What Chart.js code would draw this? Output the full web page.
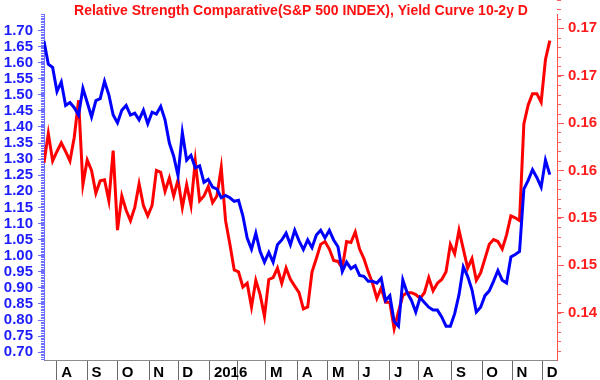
<!DOCTYPE html>
<html>
<head>
<meta charset="utf-8">
<script src="https://cdn.jsdelivr.net/npm/chart.js@4/dist/chart.umd.min.js"></script>
<style>
  html, body { margin: 0; padding: 0; background: #fff; }
  #wrap { width: 600px; height: 380px; }
</style>
</head>
<body>
<div id="wrap"><canvas id="c" width="600" height="380"></canvas></div>
<script>
// one value every 3 trading days, starting mid July 2015
const step = 3;
const rsValues = [
  1.667, 1.595, 1.585, 1.51, 1.54, 1.467, 1.476, 1.46, 1.437, 1.52,
  1.476, 1.431, 1.482, 1.488, 1.542, 1.50, 1.437, 1.413, 1.452, 1.467,
  1.437, 1.443, 1.422, 1.452, 1.41, 1.446, 1.44, 1.464, 1.422, 1.35,
  1.309, 1.249, 1.383, 1.297, 1.312, 1.273, 1.279, 1.228, 1.237, 1.213,
  1.207, 1.18, 1.187, 1.18, 1.169, 1.172, 1.124, 1.055, 1.02, 1.07,
  1.013, 0.98, 1.01, 0.98, 1.034, 1.049, 1.07, 1.034, 1.079, 1.046,
  1.019, 1.049, 1.025, 1.064, 1.079, 1.055, 1.079, 1.049, 1.028, 0.951,
  0.98, 0.96, 0.969, 0.939, 0.936, 0.921, 0.921, 0.915, 0.93, 0.861,
  0.876, 0.796, 0.781, 0.925, 0.885, 0.861, 0.825, 0.87, 0.855, 0.84,
  0.831, 0.831, 0.81, 0.781, 0.781, 0.82, 0.879, 0.965, 0.936, 0.894,
  0.825, 0.84, 0.876, 0.891, 0.921, 0.954, 0.924, 0.915, 0.996, 1.004,
  1.013, 1.207, 1.234, 1.267, 1.243, 1.213, 1.297, 1.252
];
const yieldValues = [
  0.1583, 0.1614, 0.1585, 0.1595, 0.1604, 0.1595, 0.1585, 0.1610, 0.1649, 0.1560,
  0.1586, 0.1575, 0.1551, 0.1564, 0.1565, 0.1543, 0.1596, 0.1512, 0.1548, 0.1533,
  0.1522, 0.1536, 0.1561, 0.1538, 0.1527, 0.1538, 0.1575, 0.1573, 0.1553, 0.1567,
  0.1548, 0.1565, 0.1536, 0.1560, 0.1538, 0.1585, 0.1543, 0.1548, 0.1558, 0.1541,
  0.1548, 0.1578, 0.1522, 0.1497, 0.1470, 0.1468, 0.1452, 0.1456, 0.1431, 0.1459,
  0.1444, 0.1421, 0.1460, 0.1462, 0.1472, 0.1456, 0.1472, 0.1460, 0.1453, 0.1446,
  0.1429, 0.1431, 0.1468, 0.1482, 0.1497, 0.1500, 0.1492, 0.1480, 0.1479, 0.1472,
  0.1500, 0.1499, 0.1510, 0.1492, 0.1482, 0.1468, 0.1456, 0.1440, 0.1451, 0.1436,
  0.1436, 0.1408, 0.1426, 0.1443, 0.1446, 0.1446, 0.1444, 0.1440, 0.1446, 0.1462,
  0.1448, 0.1456, 0.1460, 0.1468, 0.1497, 0.1487, 0.1512, 0.1492, 0.1472, 0.1482,
  0.1459, 0.1467, 0.1482, 0.1497, 0.1502, 0.1500, 0.1492, 0.1507, 0.1527, 0.1525,
  0.1522, 0.1624, 0.1644, 0.1656, 0.1656, 0.1647, 0.1692, 0.1712
];

// trading-day index of each month start, and its label
const monthStart = [9, 30, 51, 73, 93, 115, 134, 154, 176, 197, 218, 240, 260, 283, 304, 325, 346];
const monthLabel = ['A', 'S', 'O', 'N', 'D', '2016', '', 'M', 'A', 'M', 'J', 'J', 'A', 'S', 'O', 'N', 'D'];

const leftTicks = [0.70, 0.75, 0.80, 0.85, 0.90, 0.95, 1.00, 1.05, 1.10, 1.15, 1.20,
                   1.25, 1.30, 1.35, 1.40, 1.45, 1.50, 1.55, 1.60, 1.65, 1.70];
const rightTicks = [0.1425, 0.1475, 0.1525, 0.1575, 0.1625, 0.1675, 0.1725];
const rightTickLabels = ['0.14', '0.15', '0.15', '0.16', '0.16', '0.17', '0.17'];

const title = 'Relative Strength Comparative(S&P 500 INDEX), Yield Curve 10-2y D';

Chart.defaults.font.family = '"Liberation Sans", Arial, sans-serif';
Chart.defaults.font.weight = 'bold';

const toPoints = arr => arr.map((v, i) => ({ x: i * step, y: v }));

// small ticks between the labelled ones, plus the title inside the plot
const extras = {
  id: 'extras',
  afterDraw(chart) {
    const ctx = chart.ctx;
    const yl = chart.scales.yL, yr = chart.scales.yR;
    ctx.save();
    ctx.lineWidth = 1;
    ctx.strokeStyle = '#6f6fff';
    for (let n = 136; n <= 350; n++) {
      const y = Math.round(yl.getPixelForValue(n / 200)) + 0.5;
      if (y < 0 || y > chart.chartArea.bottom) continue;
      ctx.beginPath();
      ctx.moveTo(yl.right - 3, y);
      ctx.lineTo(yl.right, y);
      ctx.stroke();
    }
    ctx.strokeStyle = '#ff6060';
    for (let n = 0; n <= 40; n++) {
      const y = Math.round(yr.getPixelForValue(0.1375 + n * 0.001)) + 0.5;
      if (y < 0 || y > chart.chartArea.bottom) continue;
      ctx.beginPath();
      ctx.moveTo(yr.left, y);
      ctx.lineTo(yr.left + 4, y);
      ctx.stroke();
    }
    ctx.fillStyle = '#ff1010';
    ctx.font = 'bold 14px "Liberation Sans", Arial, sans-serif';
    ctx.textAlign = 'center';
    ctx.textBaseline = 'alphabetic';
    ctx.fillText(title, 301, 15);
    ctx.restore();
  }
};

new Chart(document.getElementById('c'), {
  type: 'line',
  data: {
    datasets: [
      {
        label: 'Relative Strength Comparative',
        data: toPoints(rsValues),
        yAxisID: 'yL',
        borderColor: '#0000ff',
        borderWidth: 3,
        pointRadius: 0,
        tension: 0,
        order: 0
      },
      {
        label: 'Yield Curve 10-2y',
        data: toPoints(yieldValues),
        yAxisID: 'yR',
        borderColor: '#ff0000',
        borderWidth: 3,
        pointRadius: 0,
        tension: 0,
        order: 1
      }
    ]
  },
  options: {
    responsive: false,
    animation: false,
    devicePixelRatio: 1,
    layout: { padding: 0 },
    plugins: { legend: { display: false }, tooltip: { enabled: false }, title: { display: false } },
    events: [],
    scales: {
      x: {
        type: 'linear',
        min: 0,
        max: 356,
        afterBuildTicks: s => { s.ticks = monthStart.map(v => ({ value: v })); },
        afterFit: s => { s.height = 20; },
        border: { color: '#8c8c8c', width: 1 },
        grid: { drawOnChartArea: false, tickLength: 20, color: '#6a6a6a' },
        ticks: {
          autoSkip: false,
          maxRotation: 0,
          align: 'start',
          padding: -16,
          color: '#000',
          font: { size: 15, weight: 'bold' },
          callback: (v, i) => ' ' + monthLabel[i]
        }
      },
      yL: {
        type: 'linear',
        position: 'left',
        min: 0.676,
        max: 1.751,
        afterBuildTicks: s => { s.ticks = leftTicks.map(v => ({ value: v })); },
        afterFit: s => { s.width = 44; },
        border: { color: '#6f6fff', width: 1 },
        grid: { drawOnChartArea: false, tickLength: 6, color: '#6f6fff' },
        ticks: {
          autoSkip: false,
          padding: 5,
          color: '#1c1cff',
          font: { size: 15, weight: 'bold' },
          callback: v => v.toFixed(2)
        }
      },
      yR: {
        type: 'linear',
        position: 'right',
        min: 0.1375,
        max: 0.1740,
        afterBuildTicks: s => { s.ticks = rightTicks.map(v => ({ value: v })); },
        afterFit: s => { s.width = 43; },
        border: { color: '#ff5050', width: 1 },
        grid: { drawOnChartArea: false, tickLength: 7, color: '#ff5050' },
        ticks: {
          autoSkip: false,
          padding: 4,
          color: '#ff1c1c',
          font: { size: 15, weight: 'bold' },
          callback: (v, i) => rightTickLabels[i]
        }
      }
    }
  },
  plugins: [extras]
});
</script>
</body>
</html>
